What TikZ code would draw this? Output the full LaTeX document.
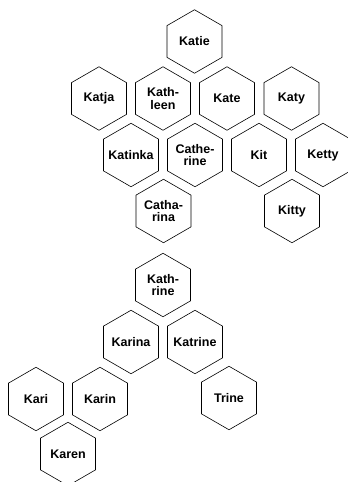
\documentclass[tikz,border=0pt]{standalone}
\usepackage{fontspec}
\setmainfont{Liberation Sans}
\usepackage{tikz}
\usetikzlibrary{shapes.geometric}

\begin{document}
\begin{tikzpicture}[
        x=1pt, y=-1pt,
        namehex/.style={
            regular polygon, regular polygon sides=6,
            shape border rotate=30,
            minimum size=63.5pt, inner sep=0pt,
            draw=black, line width=0.6pt,
            label={[align=center, inner sep=0pt,
                font=\fontsize{12.5}{12.5}\selectfont\bfseries]center:#1}
        }
    ]
        \useasboundingbox (0,0) rectangle (348,482);

        % upper cluster
        \node[namehex={Katie}] (katie) at (194.5,41.5) {};

        \node[namehex={Katja}] (katja) at (99,98.5) {};
        \node[namehex={Kath-\\leen}] (kathleen) at (163,98.5) {};
        \node[namehex={Kate}] (kate) at (227,98.5) {};
        \node[namehex={Katy}] (katy) at (291.5,98.5) {};

        \node[namehex={Katinka}] (katinka) at (131,155) {};
        \node[namehex={Cathe-\\rine}] (catherine) at (195,155) {};
        \node[namehex={Kit}] (kit) at (259,155) {};
        \node[namehex={Ketty}] (ketty) at (323,155) {};

        \node[namehex={Catha-\\rina}] (catharina) at (163.5,211) {};
        \node[namehex={Kitty}] (kitty) at (292,211) {};

        % lower cluster
        \node[namehex={Kath-\\rine}] (kathrine) at (163,285) {};

        \node[namehex={Karina}] (karina) at (131,342) {};
        \node[namehex={Katrine}] (katrine) at (195,342) {};

        \node[namehex={Kari}] (kari) at (36,399) {};
        \node[namehex={Karin}] (karin) at (100,399) {};
        \node[namehex={Trine}] (trine) at (229,398) {};

        \node[namehex={Karen}] (karen) at (68,454) {};
    \end{tikzpicture}
\end{document}
